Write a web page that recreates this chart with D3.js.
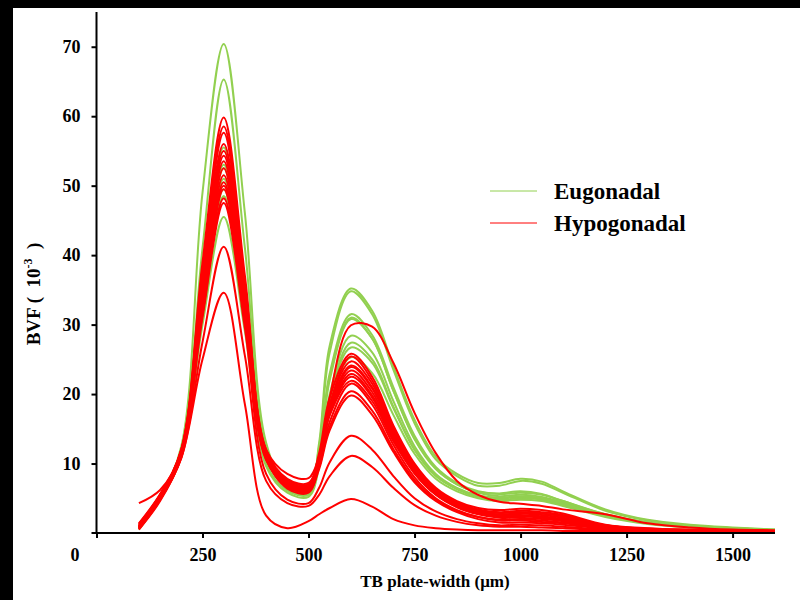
<!DOCTYPE html>
<html>
<head>
<meta charset="utf-8">
<script src="https://cdn.jsdelivr.net/npm/d3@7/dist/d3.min.js"></script>
<style>
  body { margin: 0; background: #fff; }
  svg text { font-family: 'Liberation Serif', 'Times New Roman', serif; font-weight: bold; fill: #000; }
</style>
</head>
<body>
<div id="chart"></div>
<script>
// sample positions along plate width (um)
const xPoints = [100, 150, 200, 250, 300, 350, 400, 450, 500, 525, 550, 600, 650, 700, 750, 800, 850, 900, 950, 1000, 1050, 1100, 1200, 1300, 1400, 1500, 1600];

// BVF (10^-3), one row per subject
const eugonadal = [
  [0.6, 5.0, 12.5, 49, 70.4, 46, 13, 6.4, 5.7, 13, 27, 35.2, 32, 24, 16.3, 11, 8.5, 7.2, 7.2, 7.8, 7.4, 6.0, 3.4, 1.9, 1.2, 0.8, 0.5],
  [0.8, 5.3, 12, 41, 65.3, 41, 12.5, 6.8, 6.1, 12.5, 26, 34.8, 31.5, 23.5, 15.8, 10.6, 8.2, 6.8, 6.8, 7.5, 7.1, 5.8, 3.2, 1.8, 1.1, 0.7, 0.5],
  [0.7, 5.0, 11.5, 36, 55.5, 35, 11, 7.0, 6.4, 11.5, 23, 31.5, 28.5, 21, 14, 9.5, 7.2, 6.0, 5.6, 5.8, 5.5, 4.6, 2.7, 1.5, 1.0, 0.7, 0.4],
  [1.0, 5.4, 12, 35, 53, 34, 11.2, 7.5, 6.9, 11.8, 22.5, 31, 28, 20.5, 13.5, 9.2, 7.0, 5.8, 5.3, 5.5, 5.2, 4.4, 2.6, 1.5, 0.9, 0.6, 0.4],
  [0.5, 4.8, 11, 33, 51, 32, 9.6, 5.8, 5.2, 9.5, 20, 28.4, 26, 19, 12.5, 8.5, 6.5, 5.4, 5.0, 5.2, 5.0, 4.2, 2.5, 1.4, 0.9, 0.6, 0.4],
  [0.9, 5.2, 11.5, 32, 49.5, 31, 10.5, 6.6, 6.0, 10, 19.5, 27.4, 25, 18.2, 12, 8.2, 6.3, 5.2, 4.8, 5.0, 4.8, 4.0, 2.4, 1.4, 0.9, 0.6, 0.4],
  [0.6, 4.9, 11, 30, 45.5, 29, 10.5, 7.2, 6.6, 10, 18.5, 25.3, 23, 17, 11.4, 7.8, 6.0, 5.0, 4.6, 4.8, 4.6, 3.9, 2.3, 1.3, 0.8, 0.6, 0.4],
  [0.8, 5.1, 11.8, 34.5, 52.5, 33, 11, 6.9, 6.3, 10.5, 19.5, 26.7, 24.5, 18, 12, 8.3, 6.4, 5.4, 5.1, 5.3, 5.0, 4.2, 2.5, 1.4, 0.9, 0.6, 0.4],
  [0.7, 5.0, 11.2, 31.5, 48.5, 30.5, 10, 6.1, 5.5, 10.8, 22, 30.8, 28, 20.5, 13.6, 9.3, 7.0, 5.9, 5.7, 6.0, 5.6, 4.6, 2.7, 1.5, 1.0, 0.7, 0.4],
];

const hypogonadal = [
  [1.0, 5.3, 12, 39, 59.8, 37, 12, 7.8, 7.2, 11.5, 19.5, 25.8, 22.5, 15.5, 10, 6.5, 4.6, 3.6, 3.3, 3.5, 3.3, 2.8, 1.2, 0.7, 0.5, 0.4, 0.3],
  [1.2, 5.5, 12, 38, 58.5, 36, 11.5, 6.9, 6.3, 10.5, 18, 24.1, 21, 14.5, 9.3, 6.0, 4.2, 3.2, 2.9, 3.0, 2.8, 2.4, 1.1, 0.6, 0.4, 0.3, 0.3],
  [0.9, 5.2, 11.8, 37.5, 57.6, 36, 11.8, 7.3, 6.7, 10.5, 19.5, 29.9, 29.7, 24.5, 17.3, 11.5, 7.5, 5.5, 4.5, 4.2, 3.9, 3.4, 2.7, 1.4, 0.8, 0.5, 0.4],
  [0.8, 5.0, 11.5, 36.5, 56, 35, 11, 6.6, 6.0, 10, 17.5, 23.4, 20.3, 14, 9, 5.7, 3.9, 2.9, 2.5, 2.5, 2.3, 1.9, 0.9, 0.5, 0.4, 0.3, 0.3],
  [1.4, 5.6, 12, 36, 55, 34.5, 11.5, 7.4, 6.8, 10.5, 17, 22.5, 19.5, 13.5, 8.6, 5.5, 3.7, 2.7, 2.2, 2.2, 2.0, 1.7, 0.8, 0.5, 0.4, 0.3, 0.3],
  [0.6, 4.8, 11.2, 35.5, 54.3, 34, 10.8, 6.4, 5.8, 10, 18.5, 25.4, 22, 15.2, 9.8, 6.3, 4.4, 3.4, 3.0, 3.2, 3.0, 2.6, 1.1, 0.6, 0.4, 0.3, 0.3],
  [1.1, 5.3, 11.8, 35, 53.5, 33.5, 11, 6.8, 6.2, 9.8, 16, 21.5, 18.5, 12.7, 8.0, 5.0, 3.3, 2.3, 1.8, 1.8, 1.6, 1.4, 0.7, 0.4, 0.3, 0.3, 0.2],
  [0.9, 5.2, 11.6, 34.5, 52.5, 33, 11.5, 7.6, 7.0, 11, 18.5, 24.7, 21.5, 14.8, 9.5, 6.1, 4.3, 3.3, 2.9, 3.0, 2.8, 2.4, 1.0, 0.6, 0.4, 0.3, 0.3],
  [0.7, 5.0, 11.3, 33.5, 51.5, 32.5, 10.6, 6.7, 6.1, 9.2, 14.8, 19.8, 17, 11.7, 7.3, 4.6, 3.0, 2.0, 1.5, 1.5, 1.4, 1.2, 0.6, 0.4, 0.3, 0.3, 0.2],
  [1.3, 5.5, 11.8, 33, 50.5, 31.8, 10.8, 7.2, 6.6, 10.2, 17.2, 22.9, 19.8, 13.7, 8.8, 5.6, 3.8, 2.8, 2.4, 2.4, 2.2, 1.8, 0.8, 0.5, 0.4, 0.3, 0.3],
  [0.8, 5.1, 11.5, 32.5, 49.5, 31.5, 12, 8.5, 7.9, 11, 17, 21.9, 19, 13.2, 8.6, 5.6, 3.9, 3.0, 2.7, 2.8, 2.6, 2.2, 0.9, 0.5, 0.4, 0.3, 0.3],
  [1.0, 5.2, 11.4, 31.5, 48.2, 30.5, 10.5, 7.0, 6.4, 9.5, 15.3, 20.4, 17.6, 12.1, 7.6, 4.8, 3.2, 2.3, 1.9, 2.0, 1.8, 1.5, 0.7, 0.4, 0.3, 0.3, 0.2],
  [0.6, 4.8, 11, 31, 47.5, 29.5, 8.5, 4.8, 4.3, 6.5, 10.2, 14.0, 12, 8.2, 5.0, 3.1, 2.0, 1.4, 1.1, 1.2, 1.1, 0.9, 0.5, 0.3, 0.3, 0.2, 0.2],
  [0.7, 4.9, 10.8, 27.5, 41.2, 25.5, 7.5, 4.3, 3.9, 5.5, 8.2, 11.1, 9.5, 6.5, 4.0, 2.5, 1.6, 1.1, 0.9, 0.9, 0.8, 0.7, 0.4, 0.3, 0.2, 0.2, 0.2],
  [0.5, 4.6, 10.8, 25, 34.6, 18.5, 2.5, 0.7, 1.7, 2.7, 3.6, 4.9, 3.8, 2.0, 1.1, 0.7, 0.5, 0.4, 0.4, 0.4, 0.4, 0.3, 0.3, 0.2, 0.2, 0.2, 0.2],
  [4.3, 6.2, 11.5, 33, 50, 31.5, 11, 7.1, 6.5, 10.3, 17.5, 23.9, 20.8, 14.3, 9.2, 5.9, 4.1, 3.1, 2.6, 2.6, 2.4, 2.0, 0.9, 0.5, 0.4, 0.3, 0.3],
];

const xTicks = [0, 250, 500, 750, 1000, 1250, 1500];
const yTicks = [10, 20, 30, 40, 50, 60, 70];
const legendNames = ['Eugonadal', 'Hypogonadal'];
const GREEN = '#92d050',
  RED = '#ff0000';
const legendColor = { Eugonadal: GREEN, Hypogonadal: RED };

const W = 800,
  H = 600;

const svg = d3
  .select('#chart')
  .append('svg')
  .attr('width', W)
  .attr('height', H);

svg.append('rect').attr('width', W).attr('height', H).attr('fill', '#fff');

// black strips round the scanned figure
svg.append('rect').attr('x', 0).attr('y', 0).attr('width', W).attr('height', 8).attr('fill', '#000');
svg.append('rect').attr('x', 0).attr('y', 0).attr('width', 13).attr('height', H).attr('fill', '#000');

const x = d3.scaleLinear().domain([0, 1600]).range([96.5, 775]);
const y = d3.scaleLinear().domain([0, 75]).range([533, 12]);

// curves, smoothed like the spreadsheet original
const line = d3
  .line()
  .x((d, i) => x(xPoints[i]))
  .y((d) => y(d))
  .curve(d3.curveCatmullRom.alpha(0.5));

const drawGroup = (rows, color) => {
  svg
    .append('g')
    .selectAll('path')
    .data(rows)
    .enter()
    .append('path')
    .attr('d', line)
    .attr('fill', 'none')
    .attr('stroke', color)
    .attr('stroke-width', 2);
};

drawGroup(eugonadal, GREEN);
drawGroup(hypogonadal, RED);

// axes
const yAxis = svg
  .append('g')
  .attr('transform', `translate(${x(0)},0)`)
  .call(d3.axisLeft(y).tickValues(yTicks).tickSize(5).tickSizeOuter(0).tickPadding(11));

const xAxis = svg
  .append('g')
  .attr('transform', `translate(0,${y(0)})`)
  .call(
    d3
      .axisBottom(x)
      .tickValues(xTicks)
      .tickSize(5)
      .tickSizeOuter(0)
      .tickPadding(10)
      .tickFormat((d) => (d === 0 ? '' : d))
  );

[yAxis, xAxis].forEach((g) => {
  g.select('.domain').remove();
  g.selectAll('line').attr('stroke', '#000').attr('stroke-width', 2);
  g.selectAll('text').attr('font-size', 18).attr('font-family', null);
});

svg
  .append('line')
  .attr('x1', x(0))
  .attr('x2', x(0))
  .attr('y1', y(75))
  .attr('y2', y(0) + 1)
  .attr('stroke', '#000')
  .attr('stroke-width', 2);

svg
  .append('line')
  .attr('x1', x(0) - 5)
  .attr('x2', x(1600))
  .attr('y1', y(0))
  .attr('y2', y(0))
  .attr('stroke', '#000')
  .attr('stroke-width', 2);

// shared origin label
svg.append('text').attr('x', 75).attr('y', 561).attr('text-anchor', 'middle').attr('font-size', 18).text('0');

// axis titles
svg
  .append('text')
  .attr('x', 435)
  .attr('y', 587)
  .attr('text-anchor', 'middle')
  .attr('font-size', 17)
  .text('TB plate-width  (μm)');

const yTitle = svg
  .append('text')
  .attr('transform', 'translate(40,294) rotate(-90)')
  .attr('text-anchor', 'middle')
  .attr('font-size', 19)
  .attr('xml:space', 'preserve');
yTitle.append('tspan').text('BVF (  10');
yTitle.append('tspan').attr('font-size', 12).attr('dy', -8).text('-3');
yTitle.append('tspan').attr('dy', 8).text('  )');

// legend
const legend = svg
  .append('g')
  .selectAll('g')
  .data(legendNames)
  .enter()
  .append('g')
  .attr('transform', (d, i) => `translate(490,${191 + i * 32})`);

legend
  .append('line')
  .attr('x1', 0)
  .attr('x2', 47)
  .attr('stroke', (d) => legendColor[d])
  .attr('stroke-width', 1);

legend
  .append('text')
  .attr('x', 64)
  .attr('y', 8)
  .attr('font-size', 23)
  .text((d) => d);
</script>
</body>
</html>
